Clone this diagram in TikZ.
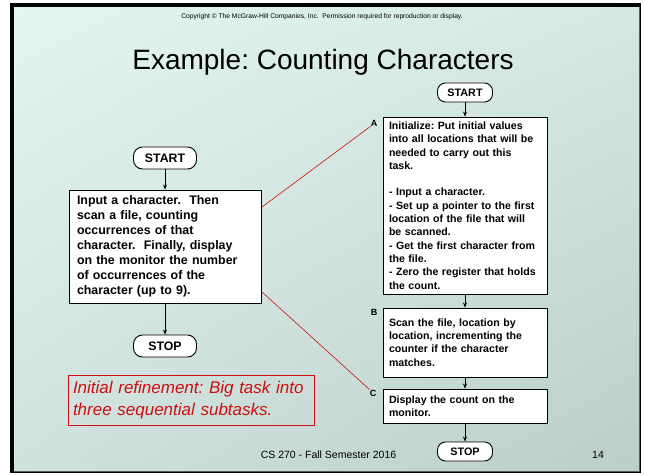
\documentclass[tikz,border=0pt]{standalone}
\usepackage{fontspec}
\setmainfont{Liberation Sans}
\frenchspacing
\usetikzlibrary{positioning,arrows.meta,shadings}

\definecolor{slidetl}{RGB}{228,246,242}
\definecolor{slidetr}{RGB}{214,232,228}
\definecolor{slidebl}{RGB}{208,226,222}
\definecolor{slidebr}{RGB}{188,206,202}
\definecolor{notered}{RGB}{204,16,16}

\begin{document}
\begin{tikzpicture}[x=1pt,y=-1pt,
    term/.style={draw, line width=0.9pt, rounded corners=9pt, fill=white,
      inner sep=0pt, font=\bfseries\fontsize{12.3}{14}\selectfont,
      minimum width=63pt, minimum height=22pt},
    smallterm/.style={term, font=\bfseries\fontsize{10.8}{12}\selectfont,
      minimum width=55pt, minimum height=19pt, rounded corners=8pt},
    taskbox/.style={draw, line width=0.9pt, fill=white, align=left,
      inner xsep=8pt, text width=176pt,
      font=\bfseries\fontsize{12.4}{15}\selectfont},
    stepbox/.style={draw, line width=0.9pt, fill=white, align=left,
      inner xsep=6pt, text width=152pt, minimum width=164pt,
      font=\bfseries\fontsize{10.6}{13.3}\selectfont},
    steplabel/.style={font=\bfseries\fontsize{9}{10}\selectfont, inner sep=0pt},
    flow/.style={-{Stealth[length=5pt,width=4pt]}, line width=0.6pt},
    redline/.style={notered, line width=0.6pt}]

  % slide background
  \useasboundingbox (0,0) rectangle (645,474);
  \fill[white] (0,0) rectangle (645,474);
  \fill[black] (10,3) rectangle (641,473);
  \shade[upper left=slidetl, upper right=slidetr, lower left=slidebl, lower right=slidebr]
    (14,7) rectangle (639,471);
  \draw[gray!70!black, line width=0.6pt] (639,7) -- (639,471) -- (14,471);

  % header
  \node (copy) at (322,17) {\fontsize{6.7}{8}\selectfont Copyright \textcopyright{} The McGraw-Hill Companies, Inc.\ \ Permission required for reproduction or display.};
  \node (title) at (323,62) {\fontsize{28}{32}\selectfont Example: Counting Characters};

  % left: the whole task
  \node[term] (start) at (165,158) {START};
  \node[taskbox, minimum height=113pt] (task) at (165,246.5)
    {Input a character.\ \ Then\\
     scan a file, counting\\
     occurrences of that\\
     character.\ \ Finally, display\\
     on the monitor the number\\
     of occurrences of the\\
     character (up to 9).};
  \node[term] (stop) at (165,346) {STOP};

  \draw[flow] (start) -- (task);
  \draw[flow] (task) -- (stop);

  % note
  \node[draw=notered, line width=0.8pt, text=notered, align=left,
        inner xsep=5pt, text width=236pt, minimum height=50pt,
        font=\itshape\fontsize{17}{22}\selectfont] (note) at (191,400)
    {Initial refinement: Big task into\\three sequential subtasks.};

  % right: three subtasks
  \node[smallterm] (startr) at (465,92.5) {START};
  \node[stepbox, minimum height=177pt] (stepA) at (465,205.5)
    {Initialize: Put initial values\\
     into all locations that will be\\
     needed to carry out this\\
     task.\\[13.3pt]
     - Input a character.\\
     - Set up a pointer to the first\\
     location of the file that will\\
     be scanned.\\
     - Get the first character from\\
     the file.\\
     - Zero the register that holds\\
     the count.};
  \node[stepbox, minimum height=69pt] (stepB) at (465,342.5)
    {Scan the file, location by\\
     location, incrementing the\\
     counter if the character\\
     matches.};
  \node[stepbox, minimum height=34pt] (stepC) at (465,406)
    {Display the count on the\\
     monitor.};
  \node[smallterm] (stopr) at (465,451.5) {STOP};

  \node[steplabel] (labA) at (374,123) {A};
  \node[steplabel] (labB) at (374,312) {B};
  \node[steplabel] (labC) at (373,393) {C};

  \draw[flow] (startr) -- (stepA);
  \draw[flow] (stepA) -- (stepB);
  \draw[flow] (stepB) -- (stepC);
  \draw[flow] (stepC) -- (stopr);

  % refinement lines
  \coordinate (refA) at (262,207);
  \coordinate (refC) at (262,292);
  \draw[redline] (refA) -- (labA.south west);
  \draw[redline] (refC) -- (labC.north west);

  % footer
  \node (foot) at (328.5,455) {\fontsize{10.5}{12}\selectfont CS 270 - Fall Semester 2016};
  \node (page) at (598,455) {\fontsize{10.5}{12}\selectfont 14};
\end{tikzpicture}
\end{document}
